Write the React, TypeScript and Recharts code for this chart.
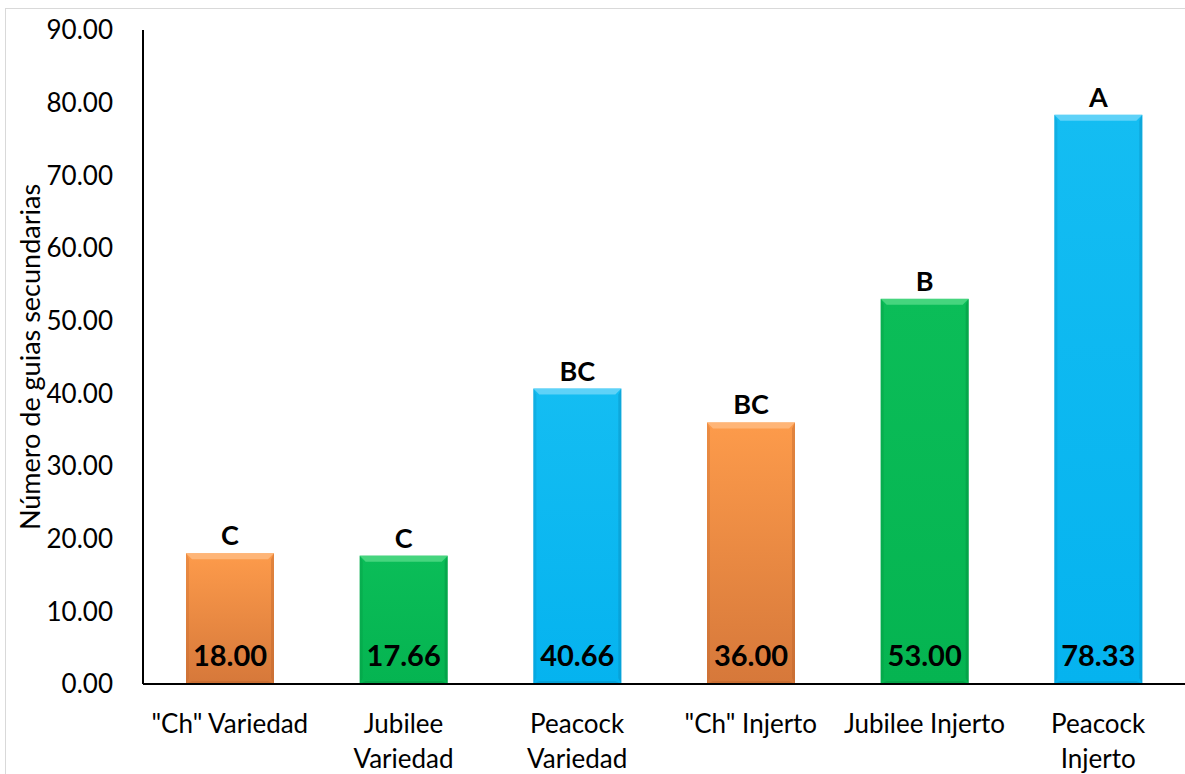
import { BarChart, Bar, XAxis, YAxis, Cell, LabelList } from "recharts";

const categories = [
  '"Ch" Variedad',
  "Jubilee Variedad",
  "Peacock Variedad",
  '"Ch" Injerto',
  "Jubilee Injerto",
  "Peacock Injerto",
];
// how each category label breaks over lines under the axis
const categoryLines = [
  ['"Ch" Variedad'],
  ["Jubilee", "Variedad"],
  ["Peacock", "Variedad"],
  ['"Ch" Injerto'],
  ["Jubilee Injerto"],
  ["Peacock", "Injerto"],
];
const guias = [18.0, 17.66, 40.66, 36.0, 53.0, 78.33];
const letters = ["C", "C", "BC", "BC", "B", "A"];
const barTone = ["orange", "green", "blue", "orange", "green", "blue"];
const yTicks = [0, 10, 20, 30, 40, 50, 60, 70, 80, 90];

const data = categories.map((name, i) => ({
  name,
  value: guias[i],
  letter: letters[i],
  tone: barTone[i],
}));

const FONT = "Lato, 'Open Sans', sans-serif";

const edge: Record<string, { light: string; dark: string }> = {
  orange: { light: "#ffc08a", dark: "#b8612a" },
  green: { light: "#5fe08f", dark: "#038a3c" },
  blue: { light: "#7fdcfb", dark: "#0789b8" },
};

function BevelBar(props: any) {
  const { x, y, width, height, payload } = props;
  if (!height || height <= 0) return null;
  const tone = payload.tone as string;
  const b = Math.min(6, height / 4);
  const c = edge[tone];
  return (
    <g>
      <rect x={x} y={y} width={width} height={height} fill={`url(#grad-${tone})`} />
      <polygon
        points={`${x},${y} ${x + width},${y} ${x + width - b},${y + b} ${x + b},${y + b}`}
        fill={c.light}
        opacity={0.7}
      />
      <polygon
        points={`${x},${y} ${x + b / 2},${y + b} ${x + b / 2},${y + height - b} ${x},${y + height}`}
        fill={c.dark}
        opacity={0.25}
      />
      <polygon
        points={`${x + width},${y} ${x + width},${y + height} ${x + width - b / 2},${y + height - b} ${x + width - b / 2},${y + b}`}
        fill={c.dark}
        opacity={0.4}
      />
      <polygon
        points={`${x},${y + height} ${x + width},${y + height} ${x + width - b},${y + height - b / 2} ${x + b},${y + height - b / 2}`}
        fill={c.dark}
        opacity={0.4}
      />
    </g>
  );
}

function CategoryTick(props: any) {
  const { x, y, payload } = props;
  const idx = categories.indexOf(payload.value);
  const lines = categoryLines[idx] || [payload.value];
  return (
    <g transform={`translate(${x},${y})`}>
      {lines.map((line, i) => (
        <text
          key={i}
          x={0}
          y={0}
          dy={47 + i * 35}
          textAnchor="middle"
          fill="#000"
          fontSize={26}
          fontFamily={FONT}
        >
          {line}
        </text>
      ))}
    </g>
  );
}

function ValueInside(props: any) {
  const { x, y, width, height, value } = props;
  return (
    <text
      x={x + width / 2}
      y={y + height - 18}
      textAnchor="middle"
      fill="#000"
      fontSize={29}
      fontWeight={700}
      fontFamily={FONT}
    >
      {Number(value).toFixed(2)}
    </text>
  );
}

export default function App() {
  return (
    <div
      style={{
        position: "absolute",
        left: 0,
        top: 0,
        width: 1185,
        height: 774,
        overflow: "hidden",
        background: "#fff",
      }}
    >
      <div
        style={{
          position: "absolute",
          left: 5,
          top: 8,
          width: 1300,
          height: 900,
          border: "1px solid #d9d9d9",
        }}
      />
      <div style={{ position: "absolute", left: 0, top: 0 }}>
        <BarChart
          width={1185}
          height={774}
          data={data}
          margin={{ top: 30, right: 0, bottom: 0, left: 63 }}
        >
          <defs>
            <linearGradient id="grad-orange" x1="0" y1="0" x2="0" y2="1">
              <stop offset="0%" stopColor="#fd9b4b" />
              <stop offset="100%" stopColor="#d6783a" />
            </linearGradient>
            <linearGradient id="grad-green" x1="0" y1="0" x2="0" y2="1">
              <stop offset="0%" stopColor="#0bbd58" />
              <stop offset="100%" stopColor="#05b451" />
            </linearGradient>
            <linearGradient id="grad-blue" x1="0" y1="0" x2="0" y2="1">
              <stop offset="0%" stopColor="#14bdf2" />
              <stop offset="100%" stopColor="#05b3ef" />
            </linearGradient>
          </defs>
          <XAxis
            dataKey="name"
            height={90}
            interval={0}
            tickLine={false}
            tickSize={0}
            axisLine={{ stroke: "#000", strokeWidth: 2 }}
            tick={<CategoryTick />}
          />
          <YAxis
            width={80}
            domain={[0, 90]}
            ticks={yTicks}
            interval={0}
            tickLine={false}
            tickSize={0}
            tickMargin={30}
            axisLine={{ stroke: "#000", strokeWidth: 2 }}
            tickFormatter={(v: number) => v.toFixed(2)}
            tick={{ fontSize: 26, fill: "#000", fontFamily: FONT }}
            label={{
              value: "Número de guias secundarias",
              angle: -90,
              position: "insideLeft",
              offset: -33,
              style: { fontSize: 27, fill: "#000", fontFamily: FONT, textAnchor: "middle" },
            }}
          />
          <Bar dataKey="value" barSize={88} shape={<BevelBar />} isAnimationActive={false}>
            {data.map((d, i) => (
              <Cell key={i} fill={d.tone} />
            ))}
            <LabelList
              dataKey="letter"
              position="top"
              offset={8}
              fill="#000"
              fontSize={27}
              fontWeight={700}
              fontFamily={FONT}
            />
            <LabelList dataKey="value" content={<ValueInside />} />
          </Bar>
        </BarChart>
      </div>
    </div>
  );
}
